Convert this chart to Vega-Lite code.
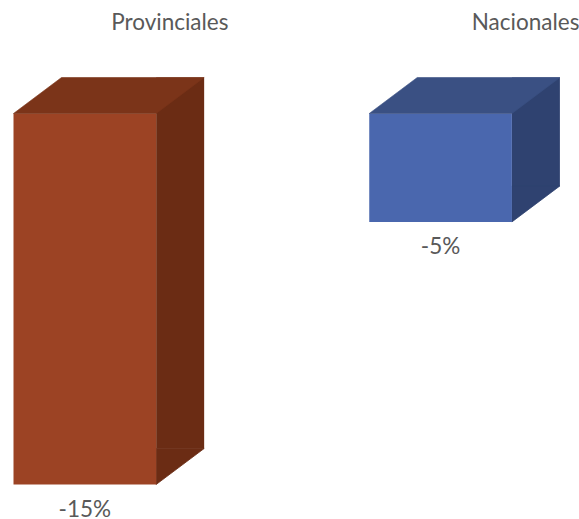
{
  "$schema": "https://vega.github.io/schema/vega-lite/v6.json",
  "width": 579,
  "height": 479,
  "padding": {"left": 0, "top": 40, "right": 0, "bottom": 0},
  "autosize": {"type": "none"},
  "background": "white",
  "config": {"view": {"stroke": null}},
  "data": {"values": [
    {"cat": "Provinciales", "value": -15.4, "label": "-15%"},
    {"cat": "Nacionales", "value": -4.5, "label": "-5%"}
  ]},
  "encoding": {
    "x": {
      "field": "cat", "type": "nominal", "sort": ["Provinciales", "Nacionales"],
      "scale": {"type": "band", "range": [13.5, 511.9], "paddingInner": 0.599, "paddingOuter": 0},
      "axis": {"orient": "top", "title": null, "domain": false, "ticks": false, "tickSize": 0, "grid": false,
               "labelAngle": 0, "labelOffset": 85, "labelPadding": 11, "labelBaseline": "alphabetic",
               "labelFont": "Lato", "labelFontSize": 22.5, "labelColor": "#595959"}
    },
    "y": {
      "field": "value", "type": "quantitative",
      "scale": {"domain": [-15.4, 0], "range": [444.5, 73.5], "nice": false, "zero": false},
      "axis": null
    }
  },
  "layer": [
    {
      "mark": {"type": "bar", "width": 48, "xOffset": 95.33, "yOffset": -36, "y2Offset": -36},
      "encoding": {
        "fill": {"field": "cat", "type": "nominal", "legend": null,
                 "scale": {"domain": ["Provinciales", "Nacionales"], "range": ["#6B2C14", "#2F4270"]}}
      }
    },
    {
      "mark": {"type": "point", "filled": true, "opacity": 1, "size": 4, "strokeWidth": 0.8,
               "shape": "M71.32,0 L71.32,-36 L119.32,-36 Z"},
      "encoding": {
        "fill": {"field": "cat", "type": "nominal", "legend": null,
                 "scale": {"domain": ["Provinciales", "Nacionales"], "range": ["#6B2C14", "#2F4270"]}},
        "stroke": {"field": "cat", "type": "nominal", "legend": null,
                 "scale": {"domain": ["Provinciales", "Nacionales"], "range": ["#6B2C14", "#2F4270"]}}
      }
    },
    {
      "mark": {"type": "bar"},
      "encoding": {
        "fill": {"field": "cat", "type": "nominal", "legend": null,
                 "scale": {"domain": ["Provinciales", "Nacionales"], "range": ["#9C4324", "#4A67AE"]}}
      }
    },
    {
      "mark": {"type": "point", "filled": true, "opacity": 1, "size": 4, "strokeWidth": 0.6,
               "shape": "M-71.33,0 L-23.33,-36 L119.32,-36 L71.32,0 Z"},
      "encoding": {
        "y": {"datum": 0, "type": "quantitative"},
        "fill": {"field": "cat", "type": "nominal", "legend": null,
                 "scale": {"domain": ["Provinciales", "Nacionales"], "range": ["#7B3419", "#3A5083"]}},
        "stroke": {"field": "cat", "type": "nominal", "legend": null,
                 "scale": {"domain": ["Provinciales", "Nacionales"], "range": ["#7B3419", "#3A5083"]}}
      }
    },
    {
      "mark": {"type": "text", "baseline": "alphabetic", "align": "center", "dy": 32.5,
               "font": "Lato", "fontSize": 22.5, "color": "#595959"},
      "encoding": {
        "text": {"field": "label", "type": "nominal"}
      }
    }
  ],
  "resolve": {"scale": {"fill": "independent", "stroke": "independent"}}
}
